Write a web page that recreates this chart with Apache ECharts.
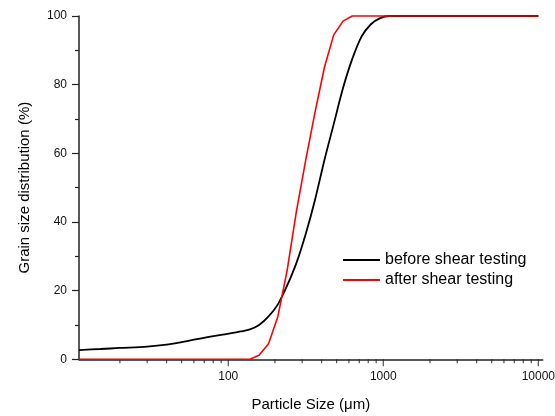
<!DOCTYPE html>
<html>
<head>
<meta charset="utf-8">
<script src="https://cdn.jsdelivr.net/npm/echarts@6/dist/echarts.min.js"></script>
<style>
html,body{margin:0;padding:0;background:#fff;}
#chart{width:555px;height:416px;}
</style>
</head>
<body>
<div id="chart"></div>
<script>
// particle sizes (µm) and cumulative distribution (%)
var beforeSize = [10.9, 15, 20, 30, 40, 50, 60, 75, 90, 105, 120, 138, 158, 182, 209, 240, 275, 316, 363, 417, 479, 550, 631, 724, 832, 955, 1096, 10000];
var beforeVal  = [2.7, 3.0, 3.3, 3.7, 4.25, 5.0, 5.7, 6.5, 7.1, 7.6, 8.1, 8.7, 10.0, 12.5, 16.0, 21.5, 28, 36.5, 46.5, 58, 68.5, 79, 87.5, 94, 97.6, 99.4, 100, 100];
var afterSize  = [10.9, 138, 158, 182, 209, 240, 275, 316, 363, 417, 479, 550, 631, 10000];
var afterVal   = [0, 0, 1.2, 4.5, 12.5, 26, 43, 58, 72, 85, 94.5, 98.5, 100, 100];
var xMajorTicks = [100, 1000, 10000];
var xMinorTicks = [20, 30, 40, 50, 60, 70, 80, 90, 200, 300, 400, 500, 600, 700, 800, 900, 2000, 3000, 4000, 5000, 6000, 7000, 8000, 9000];
var seriesNames = ['before shear testing', 'after shear testing'];

function pairs(xs, ys) { return xs.map(function (x, i) { return [x, ys[i]]; }); }
function tickMarks(xs) { return xs.map(function (x) { return [x, 0]; }); }

var chart = echarts.init(document.getElementById('chart'));
var font = 'Liberation Sans, Arial, sans-serif';
var xMin = 10.9, xMax = 10670;
var axisColor = '#222';
chart.setOption({
  animation: false,
  backgroundColor: '#fff',
  grid: { left: 79, right: 12.3, top: 16, bottom: 56.7, containLabel: false, outerBoundsMode: 'none' },
  legend: {
    orient: 'vertical',
    left: 343, top: 252, padding: 0,
    icon: 'rect',
    itemWidth: 37, itemHeight: 2, itemGap: 4,
    textStyle: { fontFamily: font, fontSize: 16, color: '#000' },
    data: seriesNames
  },
  xAxis: {
    type: 'log', logBase: 10, min: xMin, max: xMax,
    name: 'Particle Size (\u03bcm)', nameLocation: 'middle', nameGap: 38,
    nameTextStyle: { fontFamily: font, fontSize: 15, color: '#000' },
    axisLine: { show: true, lineStyle: { color: axisColor, width: 1.5 } },
    axisTick: { show: false },
    axisLabel: {
      customValues: xMajorTicks, fontFamily: font, fontSize: 12, color: '#111', margin: 11,
      formatter: function (v) { return String(Math.round(v)); }
    },
    splitLine: { show: false }
  },
  yAxis: {
    type: 'value', min: 0, max: 100, interval: 20,
    name: 'Grain size distribution (%)', nameLocation: 'middle', nameGap: 47,
    nameTextStyle: { fontFamily: font, fontSize: 15, color: '#000' },
    axisLine: { show: true, lineStyle: { color: axisColor, width: 1.5 } },
    axisTick: { show: true, inside: false, length: 7, lineStyle: { color: axisColor, width: 1.2 } },
    minorTick: { show: true, splitNumber: 2, length: 4, lineStyle: { color: axisColor, width: 1.2 } },
    axisLabel: { fontFamily: font, fontSize: 12, color: '#111', margin: 12 },
    splitLine: { show: false }
  },
  series: [{
    name: 'xMajorTick', type: 'scatter', symbol: 'rect', symbolSize: [1.2, 7], symbolOffset: [0, 3.5],
    itemStyle: { color: axisColor }, clip: false, silent: true, z: 1,
    data: tickMarks(xMajorTicks)
  }, {
    name: 'xMinorTick', type: 'scatter', symbol: 'rect', symbolSize: [1.2, 4], symbolOffset: [0, 2],
    itemStyle: { color: axisColor }, clip: false, silent: true, z: 1,
    data: tickMarks(xMinorTicks)
  }, {
    name: seriesNames[0], type: 'line', symbol: 'none', smooth: 0.3,
    lineStyle: { color: '#000', width: 1.8 }, itemStyle: { color: '#000' },
    clip: false,
    data: pairs(beforeSize, beforeVal)
  }, {
    name: seriesNames[1], type: 'line', symbol: 'none', smooth: false,
    lineStyle: { color: '#ff0000', width: 1.6 }, itemStyle: { color: '#ff0000' },
    clip: false,
    data: pairs(afterSize, afterVal)
  }]
});
</script>
</body>
</html>
